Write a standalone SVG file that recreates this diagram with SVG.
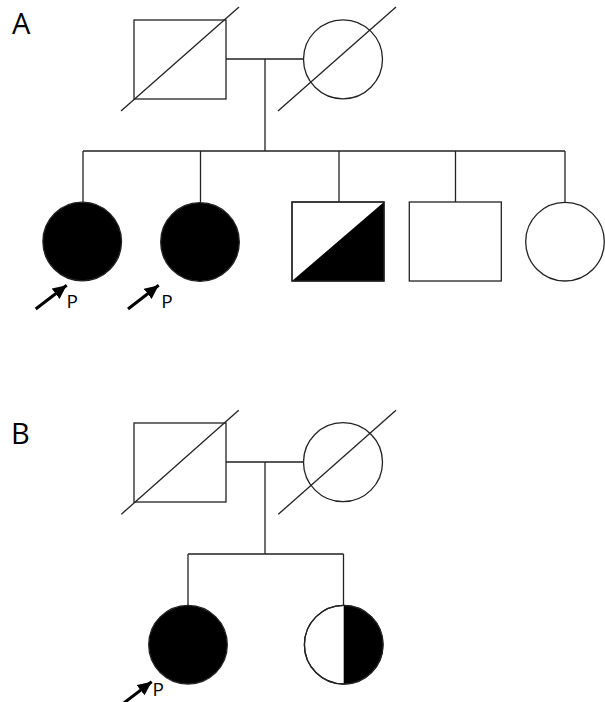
<svg xmlns="http://www.w3.org/2000/svg" width="605" height="702" viewBox="0 0 605 702">
<style>
.ln{stroke:#222;stroke-width:1.3;fill:none}
.sh{stroke:#222;stroke-width:1.3;fill:#fff}
.aff{stroke:#222;stroke-width:1.3;fill:#000}
.blk{fill:#000;stroke:none}
.lbl{font-family:"Open Sans","DejaVu Sans",sans-serif;font-size:29px;fill:#000}
.p{font-family:"Open Sans","DejaVu Sans",sans-serif;font-size:19px;fill:#000}
.arr{stroke:#000;stroke-width:3;fill:none;marker-end:url(#ah)}
</style>
<defs>
<marker id="ah" markerUnits="userSpaceOnUse" markerWidth="16" markerHeight="14" refX="14" refY="6.5" orient="auto">
<path d="M0,0 L14,6.5 L0,13 z" fill="#000"/>
</marker>
</defs>
<rect width="605" height="702" fill="#fff"/>
<text class="lbl" x="12" y="34">A</text>
<text class="lbl" x="11" y="444">B</text>
<g id="connectors">
<path class="ln" d="M226,59 H304 M265,59 V151 M83,151 H565 M83,151 V202 M200.5,151 V202 M339,151 V202 M455.5,151 V202 M565,151 V202"/>
<path class="ln" d="M226,462 H304 M265,462 V554 M188,554 H343.5 M188,554 V605 M343.5,554 V605"/>
</g>
<g id="A-father">
<rect class="sh" x="134" y="20" width="92" height="79"/>
<line class="ln" x1="121" y1="111" x2="239" y2="7"/>
</g>
<g id="A-mother">
<circle class="sh" cx="343" cy="59.3" r="39.5"/>
<line class="ln" x1="278" y1="111" x2="396" y2="7"/>
</g>
<g id="A-child1">
<circle class="aff" cx="82.2" cy="241.5" r="39.3"/>
<line class="arr" x1="35.7" y1="309" x2="66.7" y2="285.3"/>
<text class="p" x="66.5" y="308">P</text>
</g>
<g id="A-child2">
<circle class="aff" cx="200" cy="242" r="39.3"/>
<line class="arr" x1="128" y1="309" x2="158.7" y2="285.3"/>
<text class="p" x="161.2" y="308">P</text>
</g>
<g id="A-child3">
<rect class="sh" x="292" y="202" width="92" height="79"/>
<path class="blk" d="M292,281 L384,202 L384,281 z"/>
<rect class="ln" x="292" y="202" width="92" height="79"/>
</g>
<g id="A-child4">
<rect class="sh" x="409.3" y="202" width="92" height="79"/>
</g>
<g id="A-child5">
<circle class="sh" cx="565" cy="241.7" r="39.3"/>
</g>
<g id="B-father">
<rect class="sh" x="134" y="423" width="92" height="79"/>
<line class="ln" x1="121.3" y1="514.3" x2="238.7" y2="410.3"/>
</g>
<g id="B-mother">
<circle class="sh" cx="343" cy="462.2" r="39.5"/>
<line class="ln" x1="278.3" y1="514.3" x2="396" y2="410.3"/>
</g>
<g id="B-child1">
<circle class="aff" cx="188" cy="644.7" r="39.3"/>
<line class="arr" x1="120.7" y1="705.4" x2="151.7" y2="681.7"/>
<text class="p" x="152.5" y="696">P</text>
</g>
<g id="B-child2">
<circle class="sh" cx="343.7" cy="644.7" r="39.3"/>
<path class="blk" d="M343.7,605.4 A39.3,39.3 0 0 1 343.7,684 z"/>
<circle class="ln" cx="343.7" cy="644.7" r="39.3"/>
</g>
</svg>
